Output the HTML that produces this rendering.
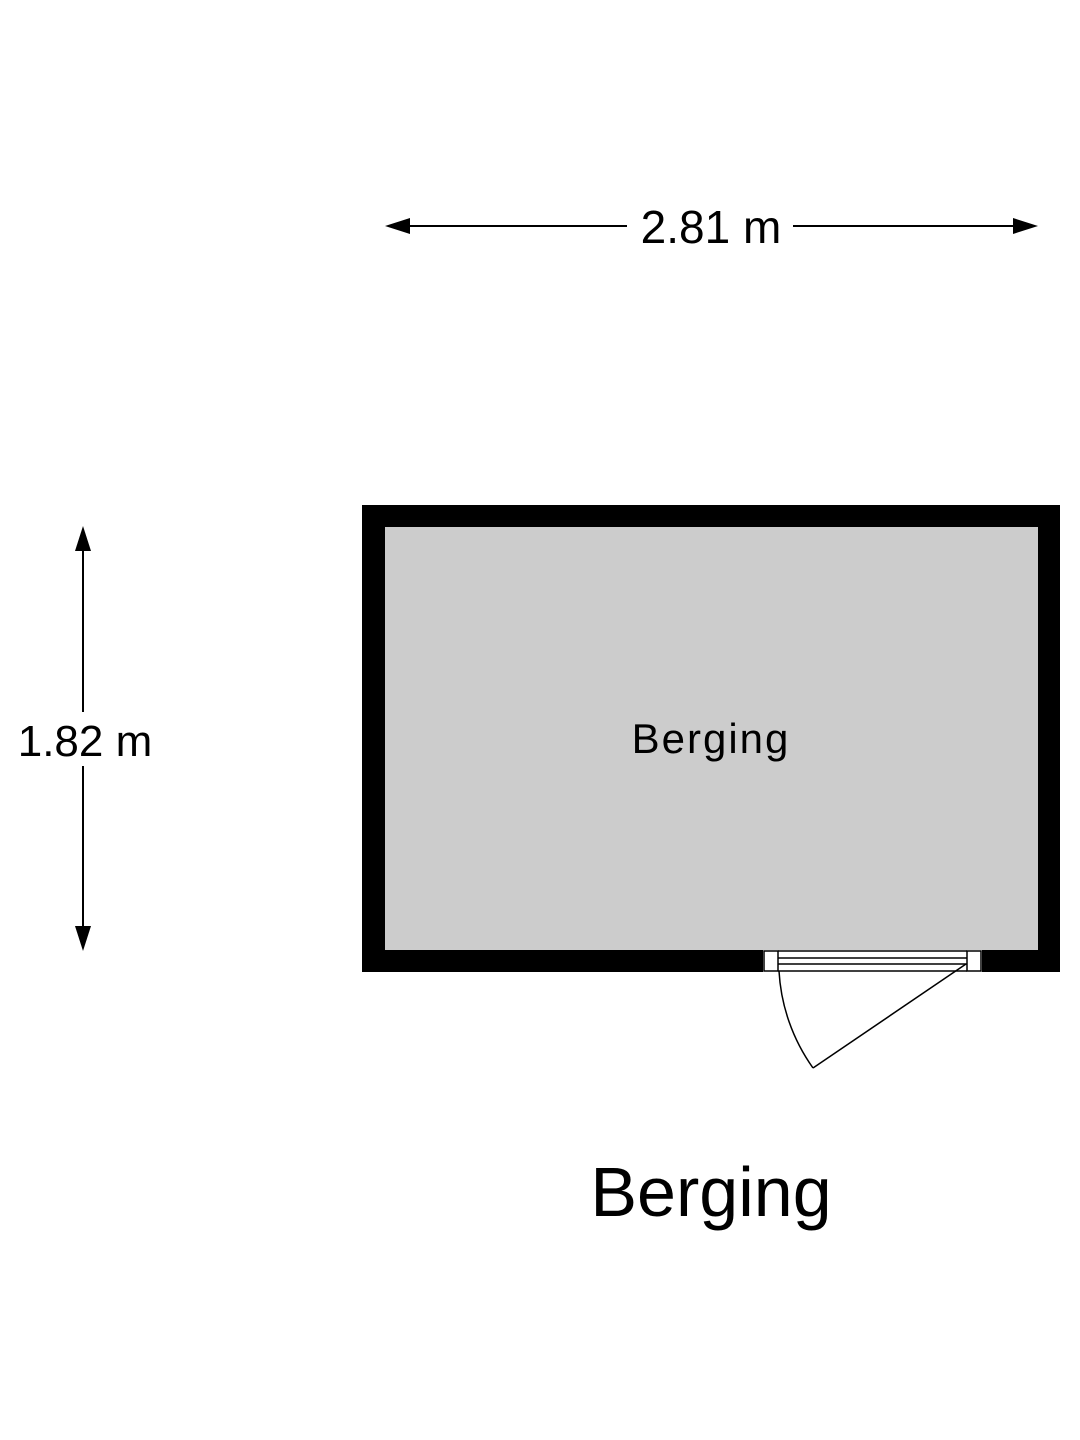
<!DOCTYPE html>
<html><head><style>body{margin:0;background:#fff}svg{display:block}</style></head><body>
<svg width="1080" height="1440" viewBox="0 0 1080 1440" xmlns="http://www.w3.org/2000/svg" font-family="Liberation Sans, sans-serif">
<rect x="362" y="505" width="698" height="467" fill="#000"/>
<rect x="385" y="527" width="653" height="423" fill="#cccccc"/>
<rect x="763" y="950" width="219" height="23" fill="#fff"/>
<rect x="764" y="951" width="14" height="20" fill="#fff" stroke="#000" stroke-width="1.5"/>
<rect x="967" y="951" width="14" height="20" fill="#fff" stroke="#000" stroke-width="1.5"/>
<g stroke="#000" stroke-width="1.5">
<line x1="778" y1="951" x2="967" y2="951"/><line x1="778" y1="958" x2="967" y2="958"/>
<line x1="778" y1="964" x2="967" y2="964"/><line x1="778" y1="971" x2="967" y2="971"/>
<line x1="966" y1="964" x2="813" y2="1068"/>
</g>
<path d="M813 1068 A185 185 0 0 1 779 971" fill="none" stroke="#000" stroke-width="1.5"/>
<text x="711" y="753" font-size="42" text-anchor="middle" letter-spacing="2">Berging</text>
<text x="711" y="1216" font-size="70" text-anchor="middle">Berging</text>
<g stroke="#000" stroke-width="2">
<line x1="400" y1="226" x2="627" y2="226"/><line x1="793" y1="226" x2="1022" y2="226"/>
<line x1="83" y1="545" x2="83" y2="712"/><line x1="83" y1="766" x2="83" y2="932"/>
</g>
<polygon points="385,226 410,218 410,234"/><polygon points="1038,226 1013,218 1013,234"/>
<polygon points="83,526 75,551 91,551"/><polygon points="83,951 75,926 91,926"/>
<text x="711" y="243" font-size="46" text-anchor="middle">2.81 m</text>
<text x="85" y="756" font-size="44" text-anchor="middle">1.82 m</text>
</svg>
</body></html>
